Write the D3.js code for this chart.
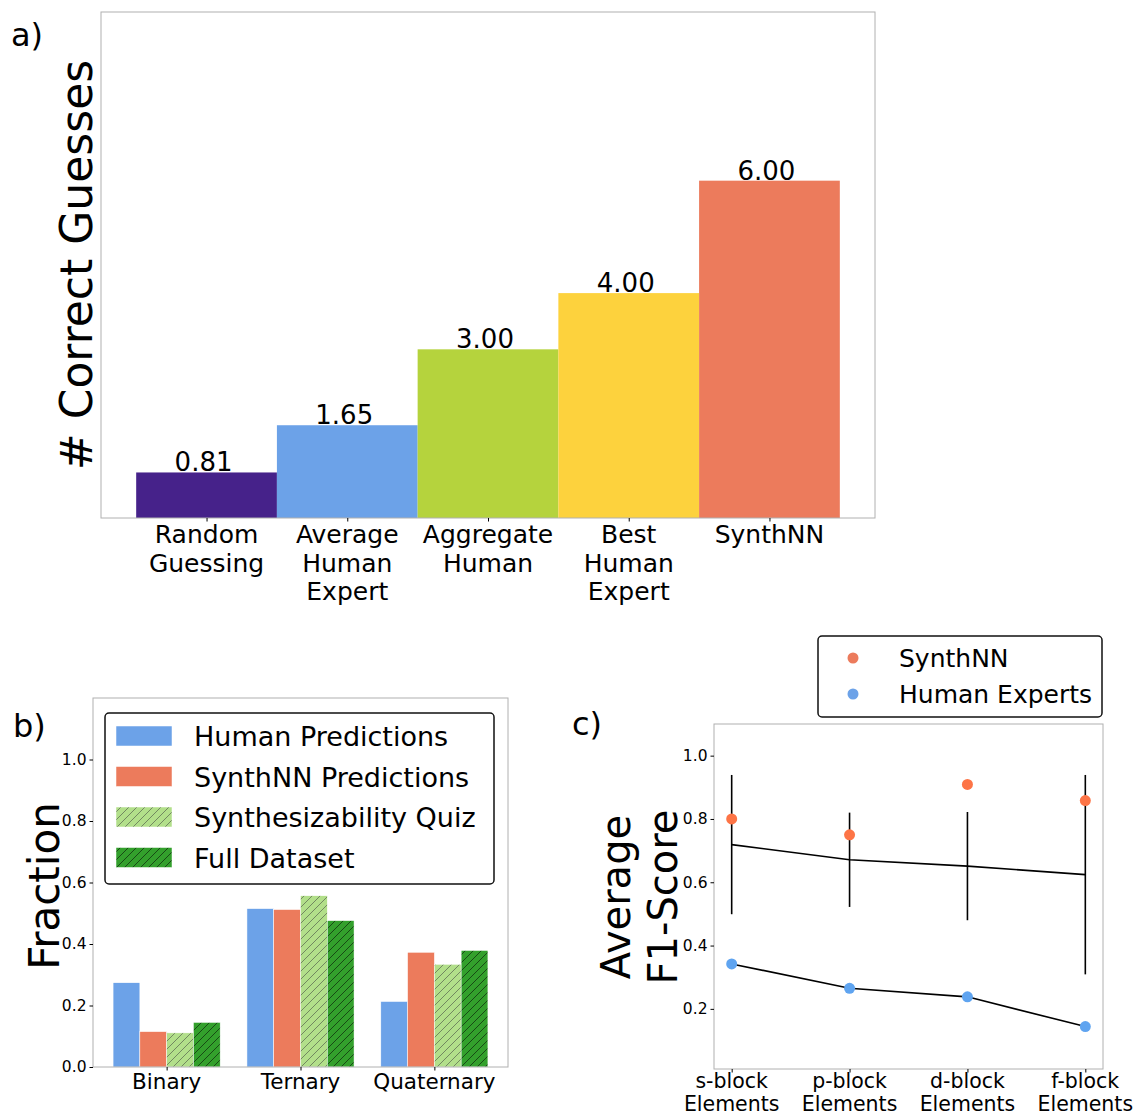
<!DOCTYPE html>
<html>
<head>
<meta charset="utf-8">
<script src="https://cdn.jsdelivr.net/npm/d3@7"></script>
<style>
  body { margin: 0; background: #fff; }
  text { font-family: 'DejaVu Sans', sans-serif; fill: #000; }
</style>
</head>
<body>
<div id="graph"></div>
<script>
// a) number of correct guesses
const guessLabels = [['Random', 'Guessing'], ['Average', 'Human', 'Expert'], ['Aggregate', 'Human'], ['Best', 'Human', 'Expert'], ['SynthNN']]
const guessValues = [0.81, 1.65, 3.00, 4.00, 6.00]
const guessColors = ['#46228a', '#6ca2e8', '#b5d33d', '#fdd23d', '#ec7b5c']

// b) fraction of compositions by number of elements
const compTypes = ['Binary', 'Ternary', 'Quaternary']
const fracSeries = ['Human Predictions', 'SynthNN Predictions', 'Synthesizability Quiz', 'Full Dataset']
const humanFrac = [0.274, 0.515, 0.213]
const synthFrac = [0.115, 0.512, 0.373]
const quizFrac = [0.111, 0.557, 0.334]
const fullFrac = [0.145, 0.476, 0.379]
const fracTicks = [0.0, 0.2, 0.4, 0.6, 0.8, 1.0]

// c) average F1 score per block
const blockLabels = [['s-block', 'Elements'], ['p-block', 'Elements'], ['d-block', 'Elements'], ['f-block', 'Elements']]
const synthF1 = [0.800, 0.750, 0.909, 0.858]
const meanF1 = [0.719, 0.671, 0.651, 0.624]
const errF1 = [0.220, 0.149, 0.171, 0.315]
const humanF1 = [0.342, 0.265, 0.238, 0.144]
const f1Ticks = [0.2, 0.4, 0.6, 0.8, 1.0]

const frameColor = '#b0b0b0'

const svg = d3.select('#graph')
  .append('svg')
  .attr('width', 1135)
  .attr('height', 1114)

// hatch patterns for panel b
const defs = svg.append('defs')
function addHatch(id, bg, line) {
  const p = defs.append('pattern')
    .attr('id', id)
    .attr('patternUnits', 'userSpaceOnUse')
    .attr('width', 8).attr('height', 8)
  p.append('rect').attr('width', 8).attr('height', 8).attr('fill', bg)
  p.append('path')
    .attr('d', 'M-1,1 l2,-2 M0,8 l8,-8 M7,9 l2,-2')
    .attr('stroke', line)
    .attr('stroke-width', 0.7)
}
addHatch('hatchLight', '#b2df8a', '#55634c')
addHatch('hatchDark', '#33a02c', '#0b260a')
const fracFills = ['#6ca2e8', '#ec7b5c', 'url(#hatchLight)', 'url(#hatchDark)']

// ---------------- panel a ----------------
const ga = svg.append('g')
const xa = d3.scaleLinear().domain([-0.75, 4.75]).range([101, 875])
const ya = d3.scaleLinear().domain([0, 9]).range([518, 12])

ga.selectAll('rect.bar')
  .data(guessValues)
  .join('rect')
  .attr('class', 'bar')
  .attr('x', (d, i) => xa(i - 0.5))
  .attr('width', xa(0.5) - xa(-0.5))
  .attr('y', d => ya(d))
  .attr('height', d => ya(0) - ya(d))
  .attr('fill', (d, i) => guessColors[i])

ga.selectAll('text.val')
  .data(guessValues)
  .join('text')
  .attr('class', 'val')
  .attr('x', (d, i) => xa(i) - 3)
  .attr('y', d => ya(d) - 1)
  .attr('text-anchor', 'middle')
  .style('font-size', '26px')
  .text(d => d.toFixed(2))

ga.append('rect')
  .attr('x', 101).attr('y', 12)
  .attr('width', 875 - 101).attr('height', 518 - 12)
  .attr('fill', 'none').attr('stroke', frameColor)

ga.append('g')
  .attr('transform', 'translate(0,518)')
  .call(d3.axisBottom(xa).tickValues(d3.range(guessValues.length)).tickSize(3.5).tickFormat(''))
  .call(g => g.select('.domain').remove())
  .call(g => g.selectAll('line').attr('stroke', '#000'))

guessLabels.forEach((lines, i) => {
  const t = ga.append('text')
    .attr('text-anchor', 'middle')
    .style('font-size', '25px')
  lines.forEach((s, j) => {
    t.append('tspan').attr('x', xa(i)).attr('y', 543 + j * 28.5).text(s)
  })
})

ga.append('text')
  .attr('transform', 'translate(92,265) rotate(-90)')
  .attr('text-anchor', 'middle')
  .style('font-size', '44px')
  .text('# Correct Guesses')

svg.append('text').attr('x', 11).attr('y', 46).style('font-size', '32px').text('a)')

// ---------------- panel b ----------------
const gb = svg.append('g')
const xb = d3.scaleLinear().domain([-0.55, 2.55]).range([93, 508])
const yb = d3.scaleLinear().domain([0, 1.2]).range([1067, 698])
const fracData = [humanFrac, synthFrac, quizFrac, fullFrac]
const barW = 0.2

fracData.forEach((vals, s) => {
  gb.selectAll('rect.s' + s)
    .data(vals)
    .join('rect')
    .attr('class', 's' + s)
    .attr('x', (d, i) => xb(i - 0.4 + s * barW))
    .attr('width', xb(barW) - xb(0))
    .attr('y', d => yb(d))
    .attr('height', d => yb(0) - yb(d))
    .attr('fill', fracFills[s])
    .attr('stroke', '#fff')
    .attr('stroke-width', 0.5)
})

gb.append('rect')
  .attr('x', 93).attr('y', 698)
  .attr('width', 508 - 93).attr('height', 1067 - 698)
  .attr('fill', 'none').attr('stroke', frameColor)

gb.append('g')
  .attr('transform', 'translate(93,0)')
  .call(d3.axisLeft(yb).tickValues(fracTicks).tickSize(3.5).tickPadding(3).tickFormat(d3.format('.1f')))
  .call(g => g.select('.domain').remove())
  .call(g => g.selectAll('line').attr('stroke', '#000'))
  .call(g => g.selectAll('text').style('font-size', '15.5px').attr('font-family', null))

gb.append('g')
  .attr('transform', 'translate(0,1067)')
  .call(d3.axisBottom(xb).tickValues(d3.range(compTypes.length)).tickSize(3.5).tickFormat(''))
  .call(g => g.select('.domain').remove())
  .call(g => g.selectAll('line').attr('stroke', '#000'))

gb.selectAll('text.cat')
  .data(compTypes)
  .join('text')
  .attr('class', 'cat')
  .attr('x', (d, i) => xb(i))
  .attr('y', 1089)
  .attr('text-anchor', 'middle')
  .style('font-size', '21.5px')
  .text(d => d)

gb.append('text')
  .attr('transform', 'translate(59,886) rotate(-90)')
  .attr('text-anchor', 'middle')
  .style('font-size', '42px')
  .text('Fraction')

// legend b
const lb = gb.append('g')
lb.append('rect')
  .attr('x', 105).attr('y', 713).attr('width', 389).attr('height', 171)
  .attr('rx', 4).attr('fill', '#fff').attr('stroke', '#111').attr('stroke-width', 1.5)
fracSeries.forEach((name, s) => {
  const cy = 736 + s * 40.5
  lb.append('rect')
    .attr('x', 116).attr('y', cy - 10).attr('width', 56).attr('height', 20)
    .attr('fill', fracFills[s])
    .attr('stroke', '#fff').attr('stroke-width', 0.5)
  lb.append('text')
    .attr('x', 194).attr('y', cy + 10)
    .style('font-size', '27px')
    .text(name)
})

svg.append('text').attr('x', 13).attr('y', 737).style('font-size', '32px').text('b)')

// ---------------- panel c ----------------
const gc = svg.append('g')
const xc = d3.scaleLinear().domain([-0.15, 3.15]).range([714, 1103])
const yc = d3.scaleLinear().domain([0.01, 1.1]).range([1069, 724])

gc.append('rect')
  .attr('x', 714).attr('y', 724)
  .attr('width', 1103 - 714).attr('height', 1069 - 724)
  .attr('fill', 'none').attr('stroke', frameColor)

const lineGen = d3.line().x((d, i) => xc(i)).y(d => yc(d))

gc.append('path')
  .datum(meanF1)
  .attr('d', lineGen)
  .attr('fill', 'none').attr('stroke', '#000').attr('stroke-width', 1.6)

gc.selectAll('line.err')
  .data(meanF1)
  .join('line')
  .attr('class', 'err')
  .attr('x1', (d, i) => xc(i)).attr('x2', (d, i) => xc(i))
  .attr('y1', (d, i) => yc(d + errF1[i]))
  .attr('y2', (d, i) => yc(d - errF1[i]))
  .attr('stroke', '#000').attr('stroke-width', 1.6)

gc.append('path')
  .datum(humanF1)
  .attr('d', lineGen)
  .attr('fill', 'none').attr('stroke', '#000').attr('stroke-width', 1.6)

gc.selectAll('circle.synth')
  .data(synthF1)
  .join('circle')
  .attr('class', 'synth')
  .attr('cx', (d, i) => xc(i)).attr('cy', d => yc(d))
  .attr('r', 5.5).attr('fill', '#fd7446')

gc.selectAll('circle.human')
  .data(humanF1)
  .join('circle')
  .attr('class', 'human')
  .attr('cx', (d, i) => xc(i)).attr('cy', d => yc(d))
  .attr('r', 5.5).attr('fill', '#5fa4f0')

gc.append('g')
  .attr('transform', 'translate(714,0)')
  .call(d3.axisLeft(yc).tickValues(f1Ticks).tickSize(3.5).tickPadding(3).tickFormat(d3.format('.1f')))
  .call(g => g.select('.domain').remove())
  .call(g => g.selectAll('line').attr('stroke', '#000'))
  .call(g => g.selectAll('text').style('font-size', '15.5px').attr('font-family', null))

gc.append('g')
  .attr('transform', 'translate(0,1069)')
  .call(d3.axisBottom(xc).tickValues(d3.range(blockLabels.length)).tickSize(3.5).tickFormat(''))
  .call(g => g.select('.domain').remove())
  .call(g => g.selectAll('line').attr('stroke', '#000'))

blockLabels.forEach((lines, i) => {
  const t = gc.append('text')
    .attr('text-anchor', 'middle')
    .style('font-size', '20.5px')
  lines.forEach((s, j) => {
    t.append('tspan').attr('x', xc(i)).attr('y', 1088 + j * 23).text(s)
  })
})

const yLabC = gc.append('text')
  .attr('transform', 'translate(0,897) rotate(-90)')
  .attr('text-anchor', 'middle')
  .style('font-size', '40px')
yLabC.append('tspan').attr('x', 0).attr('y', 630).text('Average')
yLabC.append('tspan').attr('x', 0).attr('y', 677).text('F1-Score')

// legend c
const lc = gc.append('g')
lc.append('rect')
  .attr('x', 818).attr('y', 636).attr('width', 284).attr('height', 81)
  .attr('rx', 4).attr('fill', '#fff').attr('stroke', '#111').attr('stroke-width', 1.5)
const legC = [['SynthNN', '#ec7b5c'], ['Human Experts', '#6ca2e8']]
legC.forEach((d, k) => {
  const cy = 658 + k * 36
  lc.append('circle').attr('cx', 853).attr('cy', cy).attr('r', 5.5).attr('fill', d[1])
  lc.append('text').attr('x', 899).attr('y', cy + 9).style('font-size', '25px').text(d[0])
})

svg.append('text').attr('x', 572).attr('y', 735).style('font-size', '32px').text('c)')
</script>
</body>
</html>
